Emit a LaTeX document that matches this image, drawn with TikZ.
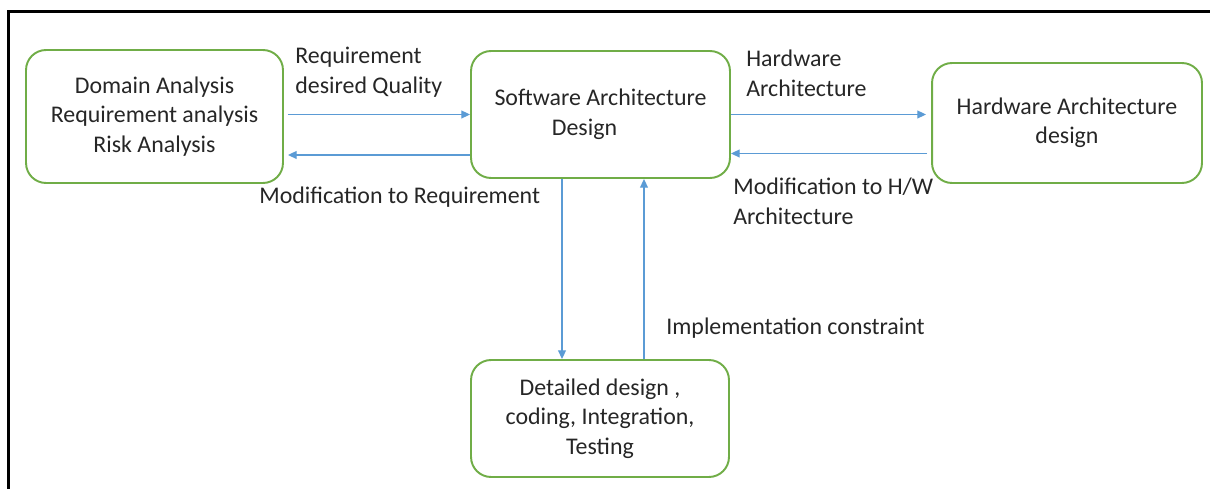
\documentclass[tikz,border=0pt]{standalone}
\usepackage{fontspec}
\setmainfont{Carlito}
\usetikzlibrary{arrows.meta}

\definecolor{boxgreen}{RGB}{112,173,71}
\definecolor{arrowblue}{RGB}{91,155,213}

\begin{document}
\begin{tikzpicture}[x=0.02cm, y=-0.02cm,
  every node/.style={font=\fontsize{13.6}{16.8}\selectfont, text=black!85},
  stage/.style={draw=boxgreen, line width=1.1pt, rounded corners=0.4cm, align=center, inner sep=0pt},
  flow/.style={draw=arrowblue, line width=0.8pt, -{Triangle[length=5pt,width=4.5pt]}},
  note/.style={align=left, anchor=west, inner sep=0pt}]
  \useasboundingbox (0,0) rectangle (1210,489);

  % Frame
  \draw[line width=0.06cm] (8.5,489) -- (8.5,12) -- (1210,12);

  % Stages
  \node[stage, minimum width=5.14cm, minimum height=2.66cm] (analysis) at (154.5,116.5)
    {Domain Analysis\\Requirement analysis\\Risk Analysis};
  \node[stage, minimum width=5.18cm, minimum height=2.54cm] (software) at (600.5,114.5)
    {Software Architecture\\Design\hspace*{0.64cm}};
  \node[stage, minimum width=5.4cm, minimum height=2.4cm] (hardware) at (1067,123)
    {Hardware Architecture\\design};
  \node[stage, minimum width=5.16cm, minimum height=2.34cm] (detailed) at (600,418.5)
    {Detailed design ,\\coding, Integration,\\Testing};

  % Helper points for the lower and vertical arrows
  \coordinate (swlow) at ([yshift=-0.81cm]software.west);
  \coordinate (selow) at ([yshift=-0.78cm]software.east);
  \coordinate (down) at ([xshift=-0.77cm]software.south);
  \coordinate (up) at ([xshift=0.87cm]software.south);

  % Requirements <-> software
  \draw[flow, shorten <=0.08cm] (software.west -| analysis.east) -- (software.west);
  \draw[flow, shorten >=0.08cm] (swlow) -- (swlow -| analysis.east);

  % Software <-> hardware
  \draw[flow, shorten >=0.1cm] (software.east) -- (software.east -| hardware.west);
  \draw[flow, shorten <=0.08cm] (selow -| hardware.west) -- (selow);

  % Software <-> detailed design
  \draw[flow] (down) -- (down |- detailed.north);
  \draw[flow] (up |- detailed.north) -- (up);

  % Labels
  \node[note] (reqlabel) at (295,72) {Requirement\\desired Quality};
  \node[note] (modreq) at (259,197) {Modification to Requirement};
  \node[note] (hwlabel) at (746,73.5) {Hardware\\Architecture};
  \node[note] (modhw) at (733,201.5) {Modification to H/W\\Architecture};
  \node[note] (impl) at (666,328) {Implementation constraint};
\end{tikzpicture}
\end{document}
